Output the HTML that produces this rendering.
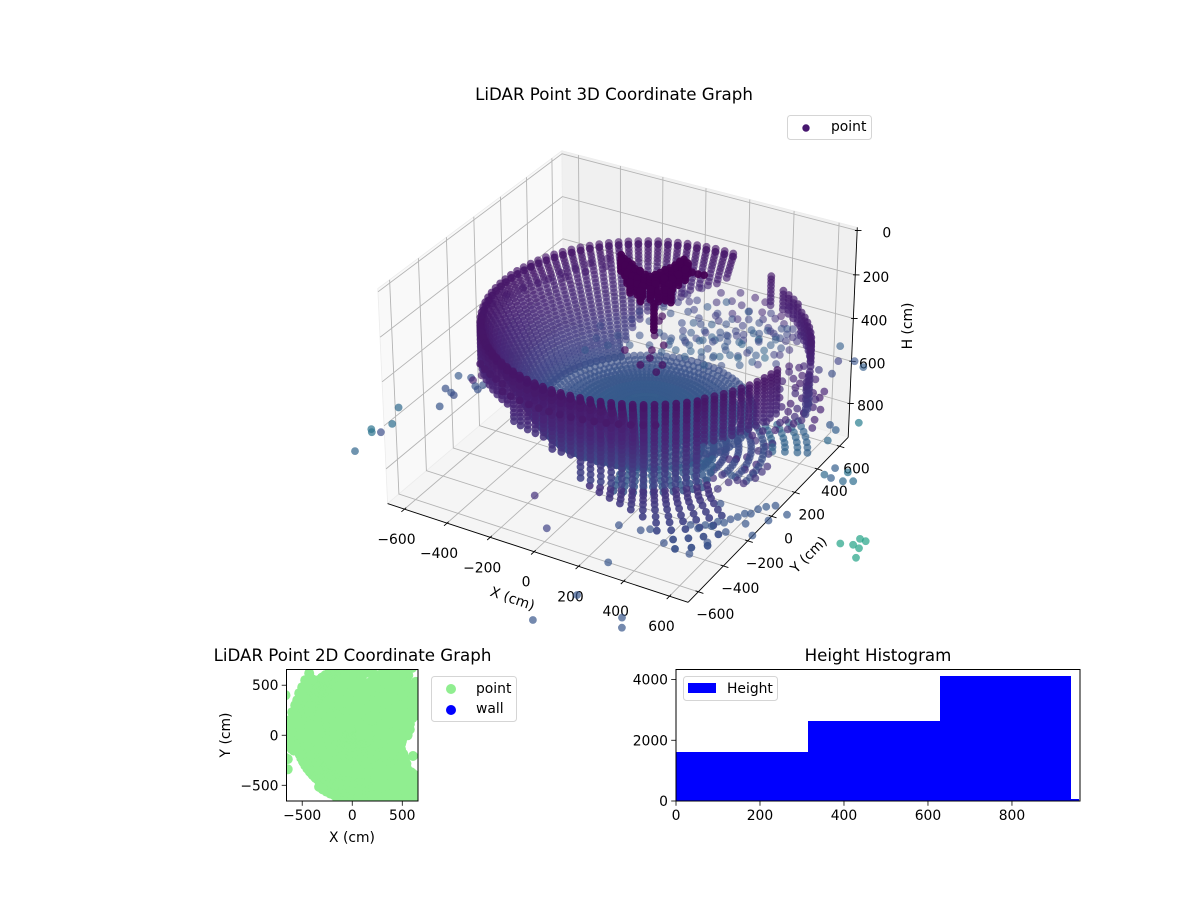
<!DOCTYPE html>
<html lang="en">
<head>
<meta charset="utf-8">
<title>LiDAR Point Graphs</title>
<style>
html,body{margin:0;padding:0;background:#fff;width:1200px;height:900px;overflow:hidden}
svg{display:block}
text{font-family:"DejaVu Sans","Liberation Sans",sans-serif;fill:#000;font-size:13.89px}
.title{font-size:16.67px;text-anchor:middle}
.legend-box{fill:#fff;stroke:#d5d5d5;stroke-width:1}
</style>
</head>
<body>
<svg id="fig" width="1200" height="900" viewBox="0 0 1200 900" xmlns="http://www.w3.org/2000/svg">
  <defs>
    <clipPath id="clip2d"><rect x="286.5" y="669.5" width="131.5" height="131.5"/></clipPath>
    <clipPath id="cliphist"><rect x="676" y="669.5" width="404" height="131.5"/></clipPath>
  </defs>
  <rect width="1200" height="900" fill="#fff"/>
  <text class="title" x="614" y="100">LiDAR Point 3D Coordinate Graph</text>
  <g id="axes3d"></g>
  <g id="points3d"></g>
  <g>
    <rect class="legend-box" x="787.5" y="115.5" width="84" height="24" rx="3"/>
    <circle cx="806" cy="128" r="3.7" fill="#47176f"/>
    <text x="831" y="131">point</text>
  </g>
  <text class="title" x="352.5" y="661">LiDAR Point 2D Coordinate Graph</text>
  <g id="axes2d"></g>
  <g>
    <rect class="legend-box" x="431.5" y="676.5" width="85" height="45" rx="3"/>
    <circle cx="451" cy="689" r="5" fill="#90ee90"/>
    <text x="476" y="693">point</text>
    <circle cx="451" cy="710" r="5" fill="#0000ff"/>
    <text x="476" y="713">wall</text>
  </g>
  <text class="title" x="878" y="661">Height Histogram</text>
  <g id="axeshist"></g>
  <g>
    <rect class="legend-box" x="683.5" y="676.5" width="94" height="24" rx="3"/>
    <rect x="688" y="683" width="28" height="10" fill="#0000ff"/>
    <text x="727" y="693">Height</text>
  </g>
</svg>
<script>
// ---------- chart data ----------
const xTicks3d = [-600,-400,-200,0,200,400,600];
const yTicks3d = [-600,-400,-200,0,200,400,600];
const zTicks3d = [0,200,400,600,800];
const xLim3d = [-680,680];
const yLim3d = [-680,680];
const zLim3d = [963,-14];

const scanAzimuths = [0,3.6,7.2,10.8,14.4,18,21.6,25.2,28.8,32.4,36,39.6,43.2,46.8,50.4,54,57.6,61.2,64.8,68.4,72,75.6,79.2,82.8,86.4,90,93.6,97.2,100.8,104.4,108,111.6,115.2,118.8,122.4,126,129.6,133.2,136.8,140.4,144,147.6,151.2,154.8,158.4,162,165.6,169.2,172.8,176.4,180,183.6,187.2,190.8,194.4,198,201.6,205.2,208.8,212.4,216,219.6,223.2,226.8,230.4,234,237.6,241.2,244.8,248.4,252,255.6,259.2,262.8,266.4,270,273.6,277.2,280.8,284.4,288,291.6,295.2,298.8,302.4,306,309.6,313.2,316.8,320.4,324,327.6,331.2,334.8,338.4,342,345.6,349.2,352.8,356.4];
const scanCenterX = 80;
const scanCenterY = 50;

// outer wall rows
const wallRadius = 650;
const wallRowH = [263,278,293,308,323,340,357,374,392,410,428,447,466,486,506,526,548,570,595,620];
const wallRowC = [.06,.06,.07,.07,.08,.08,.09,.09,.1,.1,.11,.12,.13,.14,.15,.16,.17,.18,.19,.2];
const wallArcFrom = [85,200,225,245,265,275,66,50,25,14];
const wallArcTo = [200,225,245,265,275,320,72,62,50,25];
const wallArcTop = [263,263,263,263,263,263,290,320,330,430];
const wallArcBottom = [278,430,440,500,540,620,430,420,460,610];

// front-right wall rows, on their own centre
const rightWallCenterX = -89;
const rightWallCenterY = 343;
const rightWallFrom = 320;
const rightWallTo = 354;
const rightWallH = [463,478,493,508,523,540,557,574,592,610,628,647,666];
const rightWallC = [.06,.06,.07,.07,.08,.08,.09,.09,.1,.1,.11,.12,.13];

// inner bowl rows from the rim down to the floor
const bowlR = [645,640,632,625,617,610,602,595,587,580,572,565,557,550,542,535,527,520,512,505,497,490,482,475,467,460,452,445,437,430];
const bowlH = [275,290,302,315,327,340,355,370,385,400,415,430,445,460,475,490,505,520,535,550,565,580,595,610,622,635,647,660,670,680];
const bowlC = [.06,.07,.07,.08,.08,.09,.09,.1,.1,.11,.11,.12,.12,.13,.13,.14,.14,.15,.16,.17,.17,.18,.19,.2,.2,.21,.22,.23,.23,.24];
const bowlFrom = [85,85,85,85,85,85,86,88,90,92,95,98,101,104,107,110,113,116,119,122,124,125,127,128,129,130,130,130,130,130];
const bowlTo = [300,300,300,300,300,300,300,300,300,300,300,300,300,300,300,300,300,300,300,300,300,300,300,300,300,300,300,300,300,300];

// rows fanning out below the wall
const fanR = [700,735,660,670,680,700,730,770,810,860,920,980];
const fanH = [300,300,640,655,668,675,680,684,686,688,690,692];
const fanC = [.07,.07,.14,.15,.16,.17,.18,.19,.2,.22,.24,.25];
const fanFrom = [232,250,280,283,286,289,292,296,299,302,305,306];
const fanTo = [250,305,322,322,322,322,322,322,322,320,318,314];

// concentric floor rows
const floorH = 680;
const floorR = [25,50,75,100,125,150,175,200,225,250,275,300,330,360,395,430];
const floorC = [.29,.29,.29,.29,.28,.28,.28,.28,.27,.27,.27,.26,.26,.25,.25,.24];

// floor rows in front of the sensor
const frontFloorR = [450,490,530,570,610];
const frontFloorC = [.29,.29,.28,.28,.27];
const frontFloorFrom = [285,285,285,285,285];
const frontFloorTo = [335,332,328,325,322];

// deeper rows seen past the front-right wall
const nearFloorH = 850;
const nearFloorR = [225,275,325,375,425,475,510,560,610,650];
const nearFloorC = [.22,.22,.22,.23,.23,.24,.31,.32,.32,.31];
const nearFloorFrom = [350,350,352,354,355,356,385,385,385,385];
const nearFloorTo = [410,410,412,412,412,412,410,410,410,410];

// scattered returns behind the sensor stem
const backScatterH = 450;
const backScatterX = [-135,-62,-132,-69,-18,-37,36,23,86,147,134,221,283,249,330,388,335,19,83,94,100,169,242,263,333,398,393,453,460,35,103,144,172,240,297,316,388,451,480,-38,-34,-114,-109,-177,-168,-214,520,535,271,381,218,147,377,78,-9,-34,-102,-131,
50,100,150,200,250,300,350,400,450,200,250,300,350,400,450,500,300,350,400,450,500,100,150,200,250,300,50,0,100,-50,-100,170,220,280,330,370,420,480,130,60,
180,230,280,330,380,430,470,120,170,220,270,320,370,420,470,510,90,140,190,240,290,340,390,440,490,530,200,260,320,380,440,500,300,360,420,480,540,240,180,130,200,150];
const backScatterY = [376,328,306,459,426,523,475,575,548,521,622,510,483,597,536,498,630,267,251,328,404,371,324,382,359,324,411,401,469,159,136,178,239,215,212,277,247,247,300,208,120,164,76,101,-2,195,350,404,701,630,714,719,717,679,673,597,557,486,
250,200,250,300,350,400,450,500,550,200,250,300,350,400,450,500,200,250,300,350,400,450,500,550,600,620,500,550,600,600,550,430,460,540,570,600,580,600,330,380,
360,390,430,470,520,540,560,280,300,340,380,420,460,490,510,530,230,260,290,310,340,380,420,470,460,480,150,180,220,260,300,340,130,160,200,240,280,520,470,410,630,640];
const backScatterC = [.22,.24,.2,.23,.26,.18,.24,.2,.28,.22,.29,.25,.2,.3,.24,.28,.2,.27,.25,.22,.29,.26,.3,.24,.3,.28,.33,.29,.23,.26,.28,.3,.27,.3,.29,.26,.32,.29,.33,.25,.27,.24,.26,.23,.28,.22,.17,.16,.1,.09,.11,.13,.12,.14,.13,.15,.14,.12,
.24,.28,.22,.3,.25,.2,.3,.18,.26,.3,.24,.28,.32,.22,.29,.16,.27,.3,.2,.32,.26,.22,.18,.14,.16,.12,.2,.17,.15,.14,.18,.29,.25,.21,.17,.15,.13,.12,.27,.23,
.2,.25,.22,.28,.18,.24,.2,.26,.22,.3,.24,.2,.26,.18,.22,.16,.28,.24,.3,.22,.26,.2,.28,.22,.18,.16,.3,.26,.32,.24,.28,.2,.3,.24,.28,.2,.22,.14,.18,.24,.14,.15];

// dark returns just below the sensor stem
const stemScatterH = 450;
const stemScatterX = [-28,84,62,155,80,162,-31,-36,14,86];
const stemScatterY = [348,187,130,49,6,-11,77,388,237,72];
const stemScatterC = [.03,.03,.03,.03,.03,.03,.03,.03,.03,.03];

// rim-height returns on the back-left
const rimH = 400;
const rimX = [-430,-470,-500,-530,-550,-400,-450,-500,-627,-600,-570,-667,-640];
const rimY = [620,550,480,420,350,560,480,400,150,230,300,400,60];
const rimC = [.08,.08,.08,.08,.08,.08,.08,.08,.07,.07,.07,.07,.07];

// purple returns under the front-right wall
const lowerH = 850;
const lowerX = [484,498,521,553,575,549,576,576,537,531,510,450,412,431,419,443,473,491,502,515,445,361,321,284];
const lowerY = [-86,-23,8,0,57,86,111,157,242,148,92,12,-56,-26,129,143,178,242,285,319,305,167,117,70];
const lowerC = [.16,.15,.15,.14,.15,.14,.16,.15,.17,.13,.14,.16,.15,.14,.13,.12,.13,.15,.14,.16,.15,.13,.14,.15];

// scattered returns elsewhere: x, y, colour value
const scatterH = 680;
const scatterX = [598,575,527,633,685,861,471,538,631,634,637,699,806,684,769,719,814,929,985,914,947,1031,997,
637,685,715,749,777,806,825,852,918,876,812,774,871,748,727,610,520,493,405,495,503,182,25,446,714,745,665,673,710,739,765,797,
1179,1224,1253,1229,1254,1271,
-748,-785,-770,-739,-735,-783,-645,-665,-710,-657,-701,-664,-644,-607,-584,-584,
520,560,520,560,600,640,540,580,620,650,560,600,640,520,480,500,620,600,640,655,580,540,500,470,450,440,420,460,
-610,-620,-625,-630,-640,-620,607,
540,560,600,640,540,590];
const scatterY = [674,778,892,811,786,385,672,675,459,533,345,318,291,399,314,258,205,38,35,-24,-33,-11,-31,
-589,-562,-518,-480,-419,-367,-337,-313,-346,-416,-479,-565,-536,-661,-761,-745,-690,-714,-725,-959,-1196,-878,-708,-1409,-1237,-1291,-405,-596,-557,-513,-453,-408,
-420,-404,-414,-356,-359,-476,
-787,-620,-638,-620,-546,-429,-340,12,-100,-88,-211,-227,-238,-135,-153,-113,
620,600,540,520,500,480,460,440,420,400,380,360,340,500,560,600,300,260,250,290,320,340,400,460,520,600,640,650,
100,50,0,-50,-100,150,-207,
90,140,170,200,210,230];
const scatterC = [.24,.2,.3,.26,.3,.42,.12,.18,.12,.1,.14,.1,.3,.1,.28,.12,.34,.3,.38,.34,.3,.36,.34,
.26,.27,.27,.26,.27,.27,.28,.27,.28,.27,.27,.26,.27,.26,.26,.25,.26,.25,.26,.27,.27,.2,.14,.27,.27,.27,.26,.26,.27,.27,.27,.27,
.58,.58,.58,.58,.58,.58,
.33,.38,.38,.24,.36,.34,.27,.25,.28,.26,.25,.26,.24,.26,.25,.26,
.1,.11,.09,.12,.1,.09,.13,.1,.12,.11,.1,.13,.12,.1,.11,.09,.14,.12,.1,.13,.11,.12,.1,.13,.11,.12,.1,.11,
.09,.09,.08,.08,.09,.09,.27,
.12,.13,.12,.14,.12,.13];

// returns near the sensor mount: x, y, height
const mountX = [-143,-117,-92,-67,-120,-87,-55,-37,-12,-49,-17,8,0,32,57,70,21,45,55,64,69,79,85,86,92,121,138,134,132,139,151,177,101,94,96,131,82];
const mountY = [241,220,207,195,200,174,158,168,164,125,108,104,63,64,60,23,147,143,166,190,220,243,273,310,332,313,260,212,166,125,78,75,157,99,55,58,119];
const mountLayerH = [126,138,150,162,174];
const mountTipX = [151,179,203];
const mountTipY = [294,292,297];
const mountTipH = 150;
const stemX = 110;
const stemY = 60;
const stemH = [190,205,220,235,250,265,280,295,310];

// 2D panel
const xTicks2d = [-500,0,500];
const yTicks2d = [-500,0,500];
const xLim2d = [-657,657];
const yLim2d = [-657,657];

// histogram
const histEdges = [0,314,628,941,960];
const histCounts = [1607,2623,4130,65];
const histXTicks = [0,200,400,600,800];
const histYTicks = [0,2000,4000];
const histXLim = [0,962];
const histYLim = [0,4330];

// ---------- helpers ----------
const NS = 'http://www.w3.org/2000/svg';
function el(parent, tag, attrs, name){
  const e = document.createElementNS(NS, tag);
  for (const k in attrs) e.setAttribute(k, attrs[k]);
  
  
  parent.appendChild(e);
  return e;
}
function label(parent, x, y, str, anchor, name, rot){
  const t = el(parent, 'text', {x:x, y:y, 'text-anchor':anchor||'middle'}, name);
  if (rot) t.setAttribute('transform', 'rotate(' + rot + ' ' + x + ' ' + y + ')');
  t.textContent = str;
  return t;
}
const viridisStops = [[68,1,84],[72,36,117],[65,68,135],[53,95,141],[42,120,142],[33,145,140],[34,168,132],[68,190,112],[122,209,81],[189,223,38],[253,231,37]];
function viridis(v){
  const p = Math.max(0, Math.min(.9999, v)) * 10;
  const i = Math.floor(p), f = p - i;
  const a = viridisStops[i], b = viridisStops[i+1];
  return 'rgb(' + [0,1,2].map(k => Math.round(a[k] + (b[k]-a[k])*f)).join(',') + ')';
}

// ---------- 3D projection ----------
const halfXY = 0.5715, halfZ = 0.402, eyeDist = 10;
const sx3d = 3008, sy3d = 3050, cx3d = 622, cy3d = 365.8;
const rad = Math.PI/180, elev = 30*rad, azim = -60*rad;
const w3 = [Math.cos(elev)*Math.cos(azim), Math.cos(elev)*Math.sin(azim), Math.sin(elev)];
const uLen = Math.hypot(w3[0], w3[1]);
const u3 = [-w3[1]/uLen, w3[0]/uLen, 0];
const v3 = [w3[1]*u3[2]-w3[2]*u3[1], w3[2]*u3[0]-w3[0]*u3[2], w3[0]*u3[1]-w3[1]*u3[0]];
function project(x, y, h){
  const px = ((x-xLim3d[0])/(xLim3d[1]-xLim3d[0])*2-1)*halfXY;
  const py = ((y-yLim3d[0])/(yLim3d[1]-yLim3d[0])*2-1)*halfXY;
  const pz = ((h-zLim3d[0])/(zLim3d[1]-zLim3d[0])*2-1)*halfZ;
  const xv = px*u3[0]+py*u3[1]+pz*u3[2];
  const yv = px*v3[0]+py*v3[1]+pz*v3[2];
  const zv = px*w3[0]+py*w3[1]+pz*w3[2];
  const d = eyeDist - zv;
  return {X: cx3d + sx3d*xv/d, Y: cy3d - sy3d*yv/d, depth: zv};
}
const [XL,XH] = xLim3d, [YL,YH] = yLim3d, [ZB,ZT] = zLim3d;

// ---------- 3D axes ----------
const ax3 = document.getElementById('axes3d');
function pane(pts, fill, name){
  const s = pts.map(p => { const q = project(p[0],p[1],p[2]); return q.X.toFixed(1)+','+q.Y.toFixed(1); }).join(' ');
  el(ax3, 'polygon', {points:s, fill:fill, stroke:'#ececec', 'stroke-width':.8}, name);
}
pane([[XL,YL,ZB],[XL,YH,ZB],[XL,YH,ZT],[XL,YL,ZT]], '#f9f9f9', 'pane-left');
pane([[XL,YH,ZB],[XH,YH,ZB],[XH,YH,ZT],[XL,YH,ZT]], '#f0f0f0', 'pane-back');
pane([[XL,YL,ZB],[XH,YL,ZB],[XH,YH,ZB],[XL,YH,ZB]], '#f5f5f5', 'pane-floor');
function poly3(pts, stroke, width, name, parent){
  const s = pts.map(p => { const q = project(p[0],p[1],p[2]); return q.X.toFixed(1)+','+q.Y.toFixed(1); }).join(' ');
  return el(parent||ax3, 'polyline', {points:s, fill:'none', stroke:stroke, 'stroke-width':width}, name);
}
xTicks3d.forEach(t => poly3([[t,YL,ZB],[t,YH,ZB],[t,YH,ZT]], '#b4b4b4', .9, 'x-gridline'));
yTicks3d.forEach(t => poly3([[XH,t,ZB],[XL,t,ZB],[XL,t,ZT]], '#b4b4b4', .9, 'y-gridline'));
zTicks3d.forEach(t => poly3([[XL,YL,t],[XL,YH,t],[XH,YH,t]], '#b4b4b4', .9, 'z-gridline'));
poly3([[XL,YL,ZB],[XH,YL,ZB]], '#000', .9, 'x-axis-line');
poly3([[XH,YL,ZB],[XH,YH,ZB]], '#000', .9, 'y-axis-line');
poly3([[XH,YH,ZB],[XH,YH,ZT]], '#000', .9, 'z-axis-line');
xTicks3d.forEach(t => {
  poly3([[t,YL-22,ZB],[t,YL+12,ZB]], '#000', .9, 'x-tick');
  const q = project(t,YL,ZB);
  label(ax3, q.X-8, q.Y+35, String(t).replace('-','\u2212'), 'middle', 'x-tick-label');
});
yTicks3d.forEach(t => {
  poly3([[XH+22,t,ZB],[XH-12,t,ZB]], '#000', .9, 'y-tick');
  const q = project(XH,t,ZB);
  label(ax3, q.X+17, q.Y+27, String(t).replace('-','\u2212'), 'middle', 'y-tick-label');
});
zTicks3d.forEach(t => {
  poly3([[XH+15,YH+8,t],[XH-8,YH-4,t]], '#000', .9, 'z-tick');
  const q = project(XH,YH,t);
  label(ax3, q.X+34, q.Y+7, String(t), 'end', 'z-tick-label');
});
label(ax3, 511, 603, 'X (cm)', 'middle', 'x-axis-title', 19);
label(ax3, 812, 558, 'Y (cm)', 'middle', 'y-axis-title', -45);
label(ax3, 912, 326, 'H (cm)', 'middle', 'z-axis-title', -90);

// ---------- assemble scan points ----------
const cloud = [];
function inArc(az, from, to){
  return (az >= from && az < to) || (az+360 >= from && az+360 < to);
}
function addPolar(r, h, c, az, group){
  const a = az*rad;
  cloud.push({x: scanCenterX + r*Math.cos(a), y: scanCenterY + r*Math.sin(a), h: h, c: c, group: group});
}
wallArcFrom.forEach((from, s) => {
  scanAzimuths.forEach(az => {
    if (!inArc(az, from, wallArcTo[s])) return;
    wallRowH.forEach((h, i) => {
      if (h >= wallArcTop[s] && h <= wallArcBottom[s]) addPolar(wallRadius, h, wallRowC[i], az, 'wall');
    });
  });
});
scanAzimuths.forEach(az => {
  if (!inArc(az, rightWallFrom, rightWallTo)) return;
  const a = az*rad;
  rightWallH.forEach((h, i) => cloud.push({x: rightWallCenterX + wallRadius*Math.cos(a), y: rightWallCenterY + wallRadius*Math.sin(a), h: h, c: rightWallC[i], group: 'wall'}));
});
bowlR.forEach((r, i) => scanAzimuths.forEach(az => {
  if (inArc(az, bowlFrom[i], bowlTo[i])) addPolar(r, bowlH[i], bowlC[i], az, 'bowl');
}));
fanR.forEach((r, i) => scanAzimuths.forEach(az => {
  if (inArc(az, fanFrom[i], fanTo[i])) addPolar(r, fanH[i], fanC[i], az, 'fan');
}));
floorR.forEach((r, i) => scanAzimuths.forEach(az => {
  addPolar(r, floorH, floorC[i], az, 'floor');
}));
frontFloorR.forEach((r, i) => scanAzimuths.forEach(az => {
  if (inArc(az, frontFloorFrom[i], frontFloorTo[i])) addPolar(r, floorH, frontFloorC[i], az, 'floor');
}));
nearFloorR.forEach((r, i) => scanAzimuths.forEach(az => {
  if (inArc(az, nearFloorFrom[i], nearFloorTo[i])) addPolar(r, nearFloorH, nearFloorC[i], az, 'scatter');
}));
backScatterX.forEach((x, i) => cloud.push({x: x, y: backScatterY[i], h: backScatterH, c: backScatterC[i], group: 'back'}));
stemScatterX.forEach((x, i) => cloud.push({x: x, y: stemScatterY[i], h: stemScatterH, c: stemScatterC[i], group: 'scatter'}));
rimX.forEach((x, i) => cloud.push({x: x, y: rimY[i], h: rimH, c: rimC[i], group: 'bowl'}));
lowerX.forEach((x, i) => cloud.push({x: x, y: lowerY[i], h: lowerH, c: lowerC[i], group: 'scatter'}));
scatterX.forEach((x, i) => cloud.push({x: x, y: scatterY[i], h: scatterH, c: scatterC[i], group: 'scatter'}));
mountX.forEach((x, i) => mountLayerH.forEach(h => cloud.push({x: x, y: mountY[i], h: h, c: 0, group: 'mount'})));
mountTipX.forEach((x, i) => cloud.push({x: x, y: mountTipY[i], h: mountTipH, c: 0, group: 'mount'}));
stemH.forEach(h => cloud.push({x: stemX, y: stemY, h: h, c: 0, group: 'mount'}));

// ---------- 3D scatter ----------
const g3 = document.getElementById('points3d');
const projected = cloud.map(p => Object.assign(project(p.x, p.y, p.h), {c: p.c, group: p.group}));
projected.sort((a,b) => a.depth - b.depth);
projected.forEach(p => {
  const near = Math.max(0, Math.min(1, (p.depth + .65)/1.3));
  let alpha = .55 + .4*near;
  if (p.group === 'mount') alpha = .95;
  if (p.group === 'scatter') alpha = Math.min(alpha, .7);
  if (p.group === 'back') alpha = .55;
  const dot = document.createElementNS(NS, 'circle');
  dot.setAttribute('cx', p.X.toFixed(1));
  dot.setAttribute('cy', p.Y.toFixed(1));
  dot.setAttribute('r', 3.9);
  dot.setAttribute('fill', viridis(p.c));
  dot.setAttribute('fill-opacity', alpha.toFixed(2));
  
  
  g3.appendChild(dot);
});

// ---------- 2D panel ----------
const ax2 = document.getElementById('axes2d');
const L2 = 286.5, R2 = 418, T2 = 669.5, B2 = 801;
const sx2 = v => L2 + (v-xLim2d[0])/(xLim2d[1]-xLim2d[0])*(R2-L2);
const sy2 = v => B2 - (v-yLim2d[0])/(yLim2d[1]-yLim2d[0])*(B2-T2);
const g2 = el(ax2, 'g', {'clip-path':'url(#clip2d)'}, 'points-2d');
cloud.forEach(p => {
  if (p.group === 'mount') return;
  const dot = document.createElementNS(NS, 'circle');
  dot.setAttribute('cx', sx2(p.x).toFixed(1));
  dot.setAttribute('cy', sy2(p.y).toFixed(1));
  dot.setAttribute('r', 5);
  dot.setAttribute('fill', '#90ee90');
  
  
  g2.appendChild(dot);
});
el(ax2, 'rect', {x:L2, y:T2, width:R2-L2, height:B2-T2, fill:'none', stroke:'#000', 'stroke-width':1}, 'plot-frame-2d');
xTicks2d.forEach(t => {
  el(ax2, 'line', {x1:sx2(t), x2:sx2(t), y1:B2, y2:B2+4.8, stroke:'#000', 'stroke-width':.8}, 'x-tick-2d');
  label(ax2, sx2(t), B2+19, String(t).replace('-','\u2212'), 'middle', 'x-tick-label-2d');
});
yTicks2d.forEach(t => {
  el(ax2, 'line', {x1:L2-4.8, x2:L2, y1:sy2(t), y2:sy2(t), stroke:'#000', 'stroke-width':.8}, 'y-tick-2d');
  label(ax2, L2-8, sy2(t)+5, String(t).replace('-','\u2212'), 'end', 'y-tick-label-2d');
});
label(ax2, 352, 842, 'X (cm)', 'middle', 'x-axis-title-2d');
label(ax2, 230, 735, 'Y (cm)', 'middle', 'y-axis-title-2d', -90);

// ---------- histogram ----------
const axh = document.getElementById('axeshist');
const LH = 676, RH = 1080, TH = 669.5, BH = 801;
const sxh = v => LH + (v-histXLim[0])/(histXLim[1]-histXLim[0])*(RH-LH);
const syh = v => BH - (v-histYLim[0])/(histYLim[1]-histYLim[0])*(BH-TH);
histCounts.forEach((n, i) => {
  el(axh, 'rect', {x:Math.round(sxh(histEdges[i])), y:Math.round(syh(n)), width:Math.round(sxh(histEdges[i+1]))-Math.round(sxh(histEdges[i])), height:BH-Math.round(syh(n)), fill:'#0000ff', 'shape-rendering':'crispEdges', 'clip-path':'url(#cliphist)'}, 'histogram-bar');
});
el(axh, 'rect', {x:LH, y:TH, width:RH-LH, height:BH-TH, fill:'none', stroke:'#000', 'stroke-width':1}, 'plot-frame-histogram');
histXTicks.forEach(t => {
  el(axh, 'line', {x1:sxh(t), x2:sxh(t), y1:BH, y2:BH+4.8, stroke:'#000', 'stroke-width':.8}, 'x-tick-histogram');
  label(axh, sxh(t), BH+19, String(t), 'middle', 'x-tick-label-histogram');
});
histYTicks.forEach(t => {
  el(axh, 'line', {x1:LH-4.8, x2:LH, y1:syh(t), y2:syh(t), stroke:'#000', 'stroke-width':.8}, 'y-tick-histogram');
  label(axh, LH-8, syh(t)+5, String(t), 'end', 'y-tick-label-histogram');
});
</script>
</body>
</html>
